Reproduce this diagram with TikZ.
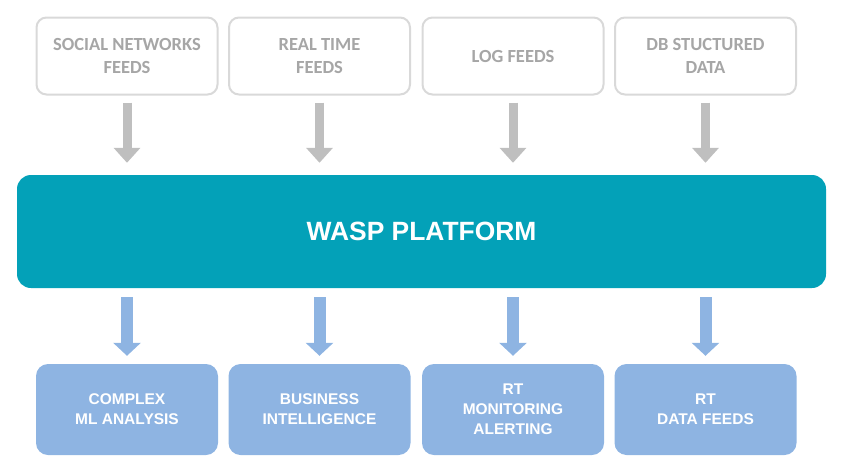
\documentclass[tikz,border=0pt]{standalone}
\usepackage{fontspec}
\setmainfont{Liberation Sans}
\newfontfamily\calib{Carlito}
\usetikzlibrary{arrows.meta}
\definecolor{waspteal}{HTML}{03A1B8}
\definecolor{outblue}{HTML}{8EB4E2}
\definecolor{boxborder}{HTML}{D9D9D9}
\definecolor{intext}{HTML}{A6A6A6}
\definecolor{inarrow}{HTML}{BFBFBF}
\tikzset{
  inbox/.style={draw=boxborder, line width=2pt, fill=white, rounded corners=10pt,
    minimum width=181pt, minimum height=77pt, align=center, text=intext,
    font=\calib\bfseries\fontsize{18.5}{23}\selectfont, inner sep=0pt},
  outbox/.style={fill=outblue, rounded corners=12pt,
    minimum width=182pt, minimum height=91pt, align=center, text=white,
    font=\bfseries\fontsize{15.5}{20}\selectfont, inner sep=0pt},
  platform/.style={fill=waspteal, rounded corners=14pt,
    minimum width=809pt, minimum height=113pt, text=white,
    font=\bfseries\fontsize{26.4}{30}\selectfont, inner sep=0pt},
  inflow/.style={draw=inarrow, line width=9pt,
    -{Triangle[width=26pt,length=15pt]}},
  outflow/.style={draw=outblue, line width=12pt,
    -{Triangle[width=27pt,length=13pt]}},
}
\begin{document}
\begin{tikzpicture}[x=1pt,y=-1pt]
\useasboundingbox (0,0) rectangle (849,474);
\node[inbox] (t1) at (127,56) {SOCIAL NETWORKS\\FEEDS};
\node[inbox] (t2) at (319.5,56) {REAL TIME\\FEEDS};
\node[inbox] (t3) at (513,56) {LOG FEEDS};
\node[inbox] (t4) at (705.5,56) {DB STUCTURED\\DATA};
\node[platform] (wasp) at (421.5,231.5) {WASP PLATFORM};
\node[outbox] (b1) at (127,409.5) {COMPLEX\\ML ANALYSIS};
\node[outbox] (b2) at (319.5,409.5) {BUSINESS\\INTELLIGENCE};
\node[outbox] (b3) at (513,409.5) {RT\\MONITORING\\ALERTING};
\node[outbox] (b4) at (705.5,409.5) {RT\\DATA FEEDS};
\foreach \i in {1,2,3,4}{
  \draw[inflow, shorten <=7pt, shorten >=12pt] (t\i.south) -- (t\i.south |- wasp.north);
  \draw[outflow, shorten <=9pt, shorten >=8pt] (b\i.north |- wasp.south) -- (b\i.north);
}
\end{tikzpicture}
\end{document}
